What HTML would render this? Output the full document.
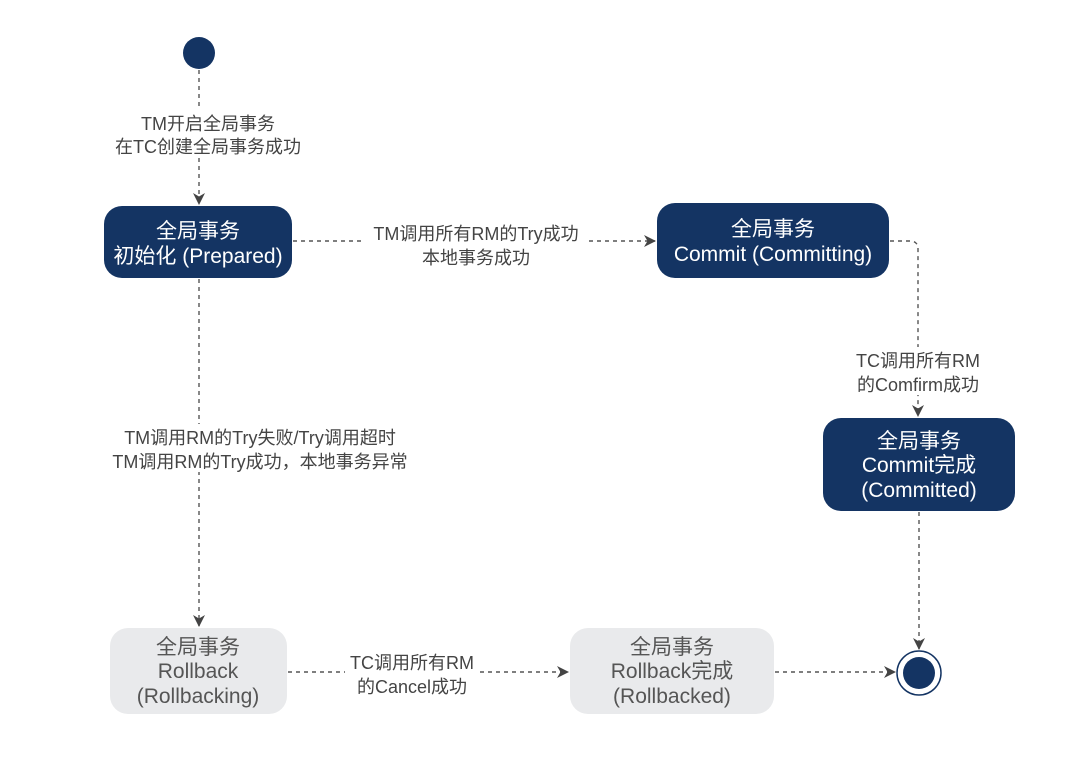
<!DOCTYPE html>
<html><head><meta charset="utf-8"><style>
body{margin:0;background:#fff;}
svg text{font-family:"Liberation Sans","Noto Sans CJK SC",sans-serif;}
</style></head><body>
<svg width="1080" height="760" viewBox="0 0 1080 760" xmlns="http://www.w3.org/2000/svg">
<defs>
<marker id="a" markerWidth="12" markerHeight="12" refX="11" refY="6" orient="auto" markerUnits="userSpaceOnUse">
<path d="M0,0 L12,6 L0,12 L3.5,6 z" fill="#444"/>
</marker>
</defs>
<g stroke="#555" stroke-width="1.4" stroke-dasharray="4,4" fill="none">
<line x1="199" y1="70" x2="199" y2="204" marker-end="url(#a)"/>
<line x1="199" y1="279" x2="199" y2="626" marker-end="url(#a)"/>
<line x1="293" y1="241" x2="655" y2="241" marker-end="url(#a)"/>
<path d="M890,241 L910,241 Q918,241 918,249 L918,416" marker-end="url(#a)"/>
<line x1="919" y1="512" x2="919" y2="649" marker-end="url(#a)"/>
<line x1="288" y1="672" x2="568" y2="672" marker-end="url(#a)"/>
<line x1="775" y1="672" x2="895" y2="672" marker-end="url(#a)"/>
</g>
<circle cx="199" cy="53" r="16" fill="#143463"/>
<circle cx="919" cy="673" r="22" fill="#fff" stroke="#143463" stroke-width="1.5"/>
<circle cx="919" cy="673" r="16" fill="#143463"/>
<g fill="#fff">
<rect x="104" y="206" width="188" height="72" rx="18" fill="#143463"/>
<rect x="657" y="203" width="232" height="75" rx="18" fill="#143463"/>
<rect x="823" y="418" width="192" height="93" rx="18" fill="#143463"/>
<rect x="110" y="628" width="177" height="86" rx="18" fill="#e9eaec"/>
<rect x="570" y="628" width="204" height="86" rx="18" fill="#e9eaec"/>
</g>
<g font-size="21" fill="#fff" text-anchor="middle">
<text x="198" y="238">全局事务</text>
<text x="198" y="263">初始化 (Prepared)</text>
<text x="773" y="236">全局事务</text>
<text x="773" y="261">Commit (Committing)</text>
<text x="919" y="448">全局事务</text>
<text x="919" y="472">Commit完成</text>
<text x="919" y="497">(Committed)</text>
</g>
<g font-size="21" fill="#555" text-anchor="middle">
<text x="198" y="654">全局事务</text>
<text x="198" y="678">Rollback</text>
<text x="198" y="703">(Rollbacking)</text>
<text x="672" y="654">全局事务</text>
<text x="672" y="678">Rollback完成</text>
<text x="672" y="703">(Rollbacked)</text>
</g>
<g font-size="18" fill="#444" text-anchor="middle">
<rect x="115" y="110" width="180" height="46" fill="#fff"/>
<text x="208" y="130">TM开启全局事务</text>
<text x="208" y="153">在TC创建全局事务成功</text>
<rect x="364" y="222" width="224" height="46" fill="#fff"/>
<text x="476" y="240">TM调用所有RM的Try成功</text>
<text x="476" y="264">本地事务成功</text>
<rect x="848" y="347" width="140" height="48" fill="#fff"/>
<text x="918" y="367">TC调用所有RM</text>
<text x="918" y="391">的Comfirm成功</text>
<rect x="105" y="424" width="310" height="48" fill="#fff"/>
<text x="260" y="444">TM调用RM的Try失败/Try调用超时</text>
<text x="260" y="468">TM调用RM的Try成功，本地事务异常</text>
<rect x="345" y="650" width="134" height="48" fill="#fff"/>
<text x="412" y="669">TC调用所有RM</text>
<text x="412" y="693">的Cancel成功</text>
</g>
</svg>
</body></html>
